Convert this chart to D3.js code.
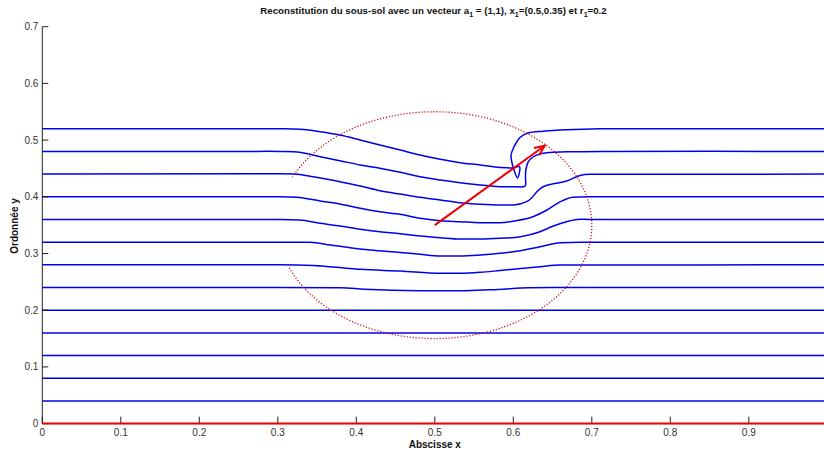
<!DOCTYPE html>
<html>
<head>
<meta charset="utf-8">
<script src="https://cdn.jsdelivr.net/npm/d3@7"></script>
<style>
  html, body { margin: 0; padding: 0; background: #fff; }
  svg { display: block; font-family: "Liberation Sans", Arial, sans-serif; }
</style>
</head>
<body>
<svg id="chart" width="824" height="452"></svg>
<script>
// ---------------- DATA ----------------
const xTicks = [0, 0.1, 0.2, 0.3, 0.4, 0.5, 0.6, 0.7, 0.8, 0.9];
const yTicks = [0, 0.1, 0.2, 0.3, 0.4, 0.5, 0.6, 0.7];
const xTickLabels = ["0", "0.1", "0.2", "0.3", "0.4", "0.5", "0.6", "0.7", "0.8", "0.9"];
const yTickLabels = ["0", "0.1", "0.2", "0.3", "0.4", "0.5", "0.6", "0.7"];

// straight (undeformed) layers
const flatLevels = [0.04, 0.08, 0.12, 0.16, 0.20];
// bottom red layer
const baseLevel = 0;

// deformed layers, [x, y]
const layer052 = [[0,0.52],[0.25,0.52],[0.303,0.52],[0.328,0.519],[0.354,0.5148],[0.379,0.509],[0.405,0.5002],[0.430,0.4914],[0.456,0.4825],[0.481,0.4737],[0.507,0.4661],[0.532,0.4601],[0.558,0.4561],[0.583,0.4517],[0.600,0.4508],[0.6079,0.4534],[0.6054,0.4332],[0.6009,0.4473],[0.598,0.4619],[0.5971,0.4737],[0.600,0.4855],[0.6047,0.4975],[0.6085,0.5046],[0.6187,0.5125],[0.6382,0.5157],[0.668,0.5182],[0.710,0.520],[0.76,0.52],[1,0.52]];
const layer048 = [[0,0.48],[0.25,0.48],[0.303,0.48],[0.328,0.4785],[0.354,0.4707],[0.379,0.4637],[0.405,0.4561],[0.430,0.4503],[0.456,0.4432],[0.481,0.4354],[0.507,0.4296],[0.532,0.4249],[0.558,0.4208],[0.583,0.4178],[0.600,0.4178],[0.615,0.419],[0.6155,0.4332],[0.616,0.4473],[0.619,0.4614],[0.625,0.4702],[0.634,0.4755],[0.647,0.4781],[0.672,0.4794],[0.72,0.48],[1,0.48]];
const layer044 = [[0,0.44],[0.303,0.4405],[0.320,0.4400],[0.345,0.4354],[0.379,0.4266],[0.405,0.419],[0.430,0.4108],[0.456,0.4049],[0.481,0.3991],[0.507,0.3944],[0.532,0.3896],[0.558,0.3868],[0.583,0.3855],[0.600,0.3855],[0.617,0.3914],[0.623,0.3974],[0.630,0.409],[0.638,0.4178],[0.655,0.4238],[0.668,0.4279],[0.685,0.4377],[0.697,0.4398],[1,0.44]];
const layer040 = [[0,0.40],[0.303,0.40],[0.324,0.3991],[0.354,0.3926],[0.379,0.3873],[0.405,0.3797],[0.430,0.3737],[0.456,0.3691],[0.481,0.3621],[0.507,0.3579],[0.532,0.3561],[0.558,0.3543],[0.583,0.3543],[0.604,0.3579],[0.625,0.3649],[0.643,0.3767],[0.660,0.3914],[0.676,0.3991],[0.694,0.40],[1,0.40]];
const layer036 = [[0,0.36],[0.303,0.36],[0.328,0.3591],[0.354,0.3533],[0.379,0.3485],[0.405,0.3427],[0.430,0.3384],[0.456,0.3349],[0.481,0.3309],[0.507,0.3279],[0.532,0.3256],[0.558,0.3256],[0.583,0.3268],[0.609,0.3296],[0.634,0.3384],[0.651,0.3485],[0.668,0.3561],[0.685,0.3603],[0.710,0.36],[1,0.36]];
const layer032 = [[0,0.32],[0.303,0.32],[0.341,0.3198],[0.367,0.315],[0.392,0.3102],[0.418,0.3062],[0.456,0.3018],[0.481,0.2986],[0.507,0.2956],[0.532,0.2956],[0.558,0.2974],[0.583,0.3004],[0.609,0.3049],[0.634,0.312],[0.660,0.319],[0.685,0.32],[1,0.32]];
const layer028 = [[0,0.28],[0.303,0.28],[0.345,0.2788],[0.367,0.2767],[0.405,0.2721],[0.456,0.2691],[0.507,0.2651],[0.532,0.2651],[0.558,0.2668],[0.583,0.270],[0.634,0.2767],[0.660,0.2797],[1,0.28]];
const layer024 = [[0,0.24],[0.303,0.24],[0.380,0.2395],[0.410,0.237],[0.480,0.2345],[0.540,0.2345],[0.580,0.2365],[0.620,0.2395],[0.660,0.24],[1,0.24]];

// inclusion: centre x1, radius r1, drawn arc (degrees)
const circleCenter = [0.5, 0.35];
const circleRadius = 0.2;
const circleArc = [-158, 155.5];
// vector a1 drawn from x1
const arrowStart = [0.5, 0.35];
const arrowEnd = [0.64, 0.49];

// ---------------- CHART ----------------
const svg = d3.select("#chart");
const x = d3.scaleLinear().domain([0, 1]).range([42.3, 827.3]);
const y = d3.scaleLinear().domain([0, 0.7]).range([423.6, 26.7]);

const line = d3.line().x(d => x(d[0])).y(d => y(d[1]));
const mono = d3.line().x(d => x(d[0])).y(d => y(d[1])).curve(d3.curveMonotoneX);
const smooth = d3.line().x(d => x(d[0])).y(d => y(d[1])).curve(d3.curveCatmullRom.alpha(0.5));

const blue = "#0000ee";

// flat layers
svg.append("g").selectAll("path").data(flatLevels).join("path")
  .attr("d", c => line([[0, c], [1, c]]))
  .attr("fill", "none").attr("stroke", blue).attr("stroke-width", 1.5);

// deformed layers (single-valued in x)
const deformedMono = [layer024, layer028, layer032, layer036, layer040, layer044];
svg.append("g").selectAll("path").data(deformedMono).join("path")
  .attr("d", mono)
  .attr("fill", "none").attr("stroke", blue).attr("stroke-width", 1.5)
  .attr("stroke-linejoin", "round");

// folded layers
const deformedFolded = [layer048, layer052];
svg.append("g").selectAll("path").data(deformedFolded).join("path")
  .attr("d", smooth)
  .attr("fill", "none").attr("stroke", blue).attr("stroke-width", 1.5)
  .attr("stroke-linejoin", "round");

// dotted circle
const arcPts = d3.range(circleArc[0], circleArc[1] + 0.01, 1).map(a => {
  const t = a * Math.PI / 180;
  return [circleCenter[0] + circleRadius * Math.cos(t), circleCenter[1] + circleRadius * Math.sin(t)];
});
svg.append("path").attr("d", line(arcPts))
  .attr("fill", "none").attr("stroke", "#cc1111").attr("stroke-width", 1.3)
  .attr("stroke-dasharray", "1.2,1.8");

// arrow
const ax0 = x(arrowStart[0]), ay0 = y(arrowStart[1]), ax1 = x(arrowEnd[0]), ay1 = y(arrowEnd[1]);
const ang = Math.atan2(ay1 - ay0, ax1 - ax0);
const hl = 11, hw = 0.42;
svg.append("path").attr("d", line([arrowStart, arrowEnd]))
  .attr("stroke", "#ee0000").attr("stroke-width", 2).attr("fill", "none");
svg.append("path")
  .attr("d", `M${ax1 - hl * Math.cos(ang - hw)},${ay1 - hl * Math.sin(ang - hw)}L${ax1},${ay1}L${ax1 - hl * Math.cos(ang + hw)},${ay1 - hl * Math.sin(ang + hw)}`)
  .attr("stroke", "#ee0000").attr("stroke-width", 2).attr("fill", "none");

// axes
const axisG = svg.append("g").attr("fill", "#333").style("font-size", "10px");
axisG.append("line").attr("x1", x(0)).attr("x2", x(0)).attr("y1", y(0)).attr("y2", y(0.7)).attr("stroke", "#222");
axisG.append("line").attr("x1", x(0)).attr("x2", x(1)).attr("y1", y(0)).attr("y2", y(0)).attr("stroke", "#222");
axisG.selectAll(".yt").data(yTicks).join("line")
  .attr("x1", x(0)).attr("x2", x(0) + 6).attr("y1", d => y(d)).attr("y2", d => y(d)).attr("stroke", "#222");
axisG.selectAll(".xt").data(xTicks).join("line")
  .attr("x1", d => x(d)).attr("x2", d => x(d)).attr("y1", y(0)).attr("y2", y(0) - 7).attr("stroke", "#222");
axisG.selectAll(".yl").data(yTicks).join("text")
  .attr("x", x(0) - 4).attr("y", d => y(d)).attr("dy", "0.35em").attr("text-anchor", "end")
  .text((d, i) => yTickLabels[i]);
axisG.selectAll(".xl").data(xTicks).join("text")
  .attr("x", d => x(d)).attr("y", y(0) + 12).attr("text-anchor", "middle")
  .text((d, i) => xTickLabels[i]);

// red base layer
svg.append("path").attr("d", line([[0, baseLevel], [1, baseLevel]]))
  .attr("stroke", "#ee0000").attr("stroke-width", 2).attr("fill", "none");

// labels
svg.append("text").attr("x", 434.8).attr("y", 448).attr("text-anchor", "middle")
  .style("font-size", "10px").style("font-weight", "bold").attr("fill", "#111").text("Abscisse x");
svg.append("text").attr("transform", "translate(18,226) rotate(-90)").attr("text-anchor", "middle")
  .style("font-size", "10px").style("font-weight", "bold").attr("fill", "#111").text("Ordonnée y");

const title = svg.append("text").attr("x", 433.5).attr("y", 14).attr("text-anchor", "middle")
  .style("font-size", "9.7px").style("font-weight", "bold").attr("fill", "#111");
const parts = [["Reconstitution du sous-sol avec un vecteur a", false], ["1", true], [" = (1,1), x", false], ["1", true], ["=(0.5,0.35) et r", false], ["1", true], ["=0.2", false]];
parts.forEach(([t, sub], i) => {
  const ts = title.append("tspan").text(t);
  if (sub) ts.attr("dy", 3).style("font-size", "7px");
  else ts.attr("dy", i > 0 ? -3 : 0);
});
</script>
</body>
</html>
